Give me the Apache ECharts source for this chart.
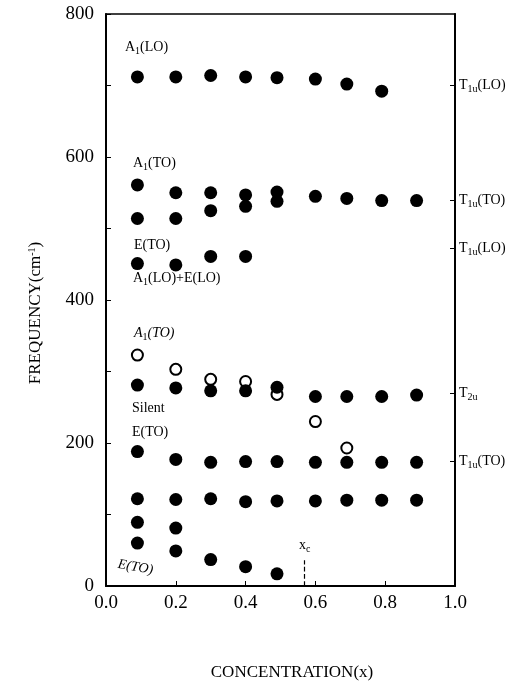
<!DOCTYPE html>
<head>
    <meta charset="utf-8">
    <script type="text/javascript" src="https://cdn.jsdelivr.net/npm/echarts@6/dist/echarts.min.js"></script>
    <style>body { margin: 0; background: #fff; }</style>
</head>
<body>
	<div id="main" style="width:527px; height:689px"></div>
	<script type="text/javascript">
		// concentration x of every measured sample
		var conc = [0.09, 0.2, 0.3, 0.4, 0.49, 0.6, 0.69, 0.79, 0.89];

		// filled dots, one branch per array (read along conc, from the left)
		var a1LO    = [712, 712, 714, 712, 711, 709, 702, 692];
		var a1TO    = [561, 550, 550, 547, 551, 545, 542, 539, 539];
		var eTOhigh = [514, 514, 525, 531, 538];
		var a1eLO   = [451, 449, 461, 461];
		var silent  = [281, 277, 273, 273, 278, 265, 265, 265, 267];
		var eTOmid  = [188, 177, 173, 174, 174, 173, 173, 173, 173];
		var mode120 = [122, 121, 122, 118, 119, 119, 120, 120, 120];
		var mode85  = [89, 81];
		var eTOlow  = [60, 49, 37, 27, 17];

		// open circles
		var a1TOopen = [323, 303, 289, 286, 268, 230, 193];

		// right hand reference modes
		var rightVals   = [700, 539, 472, 270, 174];
		var rightLabels = ['{n|T}{s|1u}{n|(LO)}', '{n|T}{s|1u}{n|(TO)}', '{n|T}{s|1u}{n|(LO)}', '{n|T}{s|2u}', '{n|T}{s|1u}{n|(TO)}'];

		var xc = 0.567;
		var xcTop = 36;

		function pts(ys) {
			var out = [];
			for (var i = 0; i < ys.length; i++) out.push([conc[i], ys[i]]);
			return out;
		}

		var filled = [].concat(pts(a1LO), pts(a1TO), pts(eTOhigh), pts(a1eLO), pts(silent),
			pts(eTOmid), pts(mode120), pts(mode85), pts(eTOlow));

		var serif = 'Liberation Serif';
		var rich = {
			n: {fontFamily: serif, fontSize: 14, color: '#000'},
			s: {fontFamily: serif, fontSize: 10, color: '#000', padding: [8, 0, 0, 0]},
			sup: {fontFamily: serif, fontSize: 10, color: '#000', padding: [0, 0, 8, 0]}
		};

		function note(x, y, text, extra) {
			var st = {text: text, fontFamily: serif, fontSize: 14, fill: '#000', align: 'left', verticalAlign: 'middle', rich: rich};
			var el = {type: 'text', x: x, y: y, style: st, z: 10};
			if (extra) {
				for (var k in extra) {
					if (k == 'rotation') el.rotation = extra[k];
					else st[k] = extra[k];
				}
			}
			return el;
		}

		var myChart = echarts.init(document.getElementById('main'));
		var option = {
			animation: false,
			grid: {left: 106, right: 72, top: 14, bottom: 103, show: true, borderColor: '#000', borderWidth: 1.5},
			xAxis: {
				type: 'value', min: 0, max: 1, interval: 0.2,
				axisLine: {lineStyle: {color: '#000', width: 2}},
				axisTick: {inside: true, length: 5, lineStyle: {color: '#000'}},
				axisLabel: {color: '#000', fontFamily: serif, fontSize: 19, margin: 8,
					formatter: function (v) { return v.toFixed(1); }},
				splitLine: {show: false}
			},
			yAxis: [
				{
					type: 'value', min: 0, max: 800, interval: 100,
					axisLine: {show: true, lineStyle: {color: '#000', width: 2}},
					axisTick: {inside: true, length: 5, lineStyle: {color: '#000'}},
					axisLabel: {color: '#000', fontFamily: serif, fontSize: 19, margin: 12,
						formatter: function (v) { return v % 200 == 0 ? v : ''; }},
					splitLine: {show: false}
				},
				{
					type: 'value', min: 0, max: 800, position: 'right',
					axisLine: {show: true, lineStyle: {color: '#000', width: 2}},
					axisTick: {inside: true, length: 5, customValues: rightVals, lineStyle: {color: '#000'}},
					axisLabel: {color: '#000', fontFamily: serif, fontSize: 14, margin: 4, customValues: rightVals, rich: rich,
						formatter: function (v) { return rightLabels[rightVals.indexOf(v)]; }},
					splitLine: {show: false}
				}
			],
			graphic: [
				note(125, 47, 'A{s|1}(LO)'),
				note(133, 163, 'A{s|1}(TO)'),
				note(134, 245, 'E(TO)'),
				note(133, 278, 'A{s|1}(LO)+E(LO)'),
				note(134, 333, 'A{s|1}(TO)', {fontStyle: 'italic'}),
				note(132, 408, 'Silent'),
				note(132, 432, 'E(TO)'),
				note(118, 564, 'E(TO)', {fontStyle: 'italic', rotation: -0.18}),
				note(299, 545, 'x{s|c}'),
				{type: 'text', x: 36, y: 313, rotation: Math.PI / 2,
					style: {text: 'FREQUENCY(cm{sup|-1})', fontFamily: serif, fontSize: 17, fill: '#000',
						align: 'center', verticalAlign: 'middle', rich: rich}},
				{type: 'text', x: 292, y: 673,
					style: {text: 'CONCENTRATION(x)', fontFamily: serif, fontSize: 17, fill: '#000',
						align: 'center', verticalAlign: 'middle'}}
			],
			series: [
				{
					type: 'scatter', data: pts(a1TOopen), symbolSize: 11, z: 2,
					itemStyle: {color: '#fff', borderColor: '#000', borderWidth: 2, opacity: 1}
				},
				{
					type: 'scatter', data: filled, symbolSize: 13, z: 3,
					itemStyle: {color: '#000', opacity: 1},
					markLine: {
						silent: true, symbol: 'none', label: {show: false},
						lineStyle: {color: '#000', type: 'dashed', width: 1.2},
						data: [[{coord: [xc, 0]}, {coord: [xc, xcTop]}]]
					}
				}
			]
		};
		myChart.setOption(option);
	</script>
</body>
